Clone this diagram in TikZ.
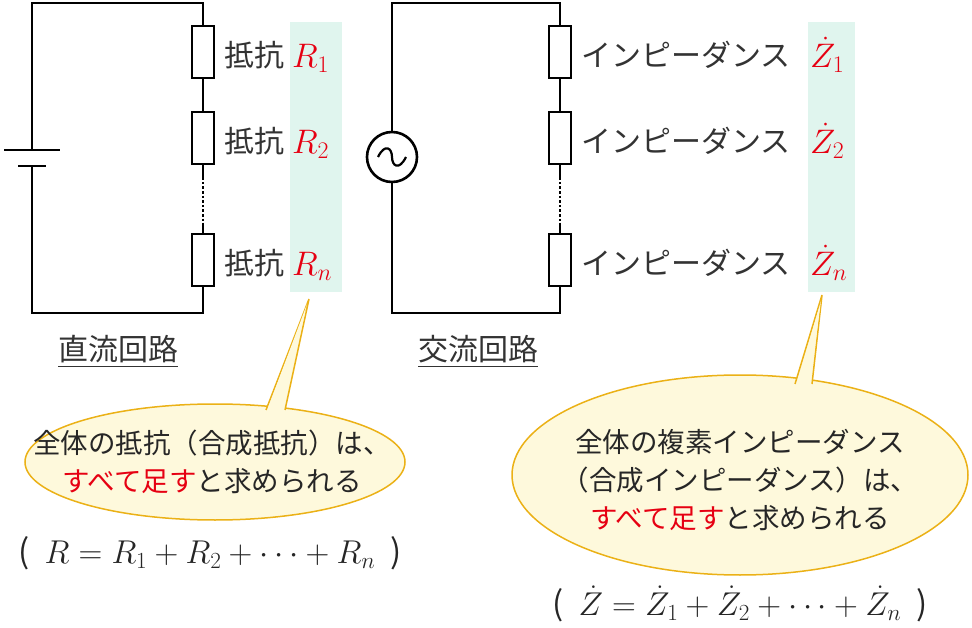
\RequirePackage{fix-cm}
\documentclass[tikz,border=0pt]{standalone}
\usepackage{amsmath}
\usepackage{fontspec}
\setmainfont{Noto Sans CJK JP}
\usetikzlibrary{positioning,calc}
\definecolor{mint}{HTML}{E0F5EE}
\definecolor{cream}{HTML}{FEF9DC}
\definecolor{gold}{HTML}{EBB116}
\definecolor{redtxt}{HTML}{E60012}
\tikzset{wire/.style={line width=2.6pt},
         res/.style={draw,line width=2.6pt,fill=white,minimum width=22pt,minimum height=52pt,inner sep=0pt},
         lbl/.style={anchor=west,font=\fontsize{30}{34}\selectfont,text=black!80,inner sep=0pt},
         sym/.style={anchor=west,font=\fontsize{34}{36}\selectfont,text=redtxt,inner sep=0pt},
         eqn/.style={anchor=center,font=\fontsize{33}{36}\selectfont,text=black!85,inner sep=0pt},
         bubble/.style={draw=gold,line width=1.5pt,fill=cream},
         say/.style={align=center,font=\fontsize{27.5}{38}\selectfont,text=black!85}
}
\begin{document}
\begin{tikzpicture}[x=1pt,y=-1pt]
\useasboundingbox (0,0) rectangle (972,628);
% highlight strips
\fill[mint] (290,22) rectangle (342,292);
\fill[mint] (808,22) rectangle (855,292);

% DC circuit
\coordinate (dctr) at (203,3);
\coordinate (dcbl) at (32,313);
\node[res] (r1) at (203,52) {};
\node[res] (r2) at (203,138) {};
\node[res] (rn) at (203,260) {};
\coordinate (batp) at (32,150);
\coordinate (batn) at (32,166);
\draw[wire] (batp) |- (dctr) -- (r1.north);
\draw[wire] (r1.south) -- (r2.north);
\draw[wire] (r2.south) -- ++(0,12);
\draw[wire,dotted] ($(r2.south)+(0,12)$) -- ($(rn.north)+(0,-10)$);
\draw[wire] ($(rn.north)+(0,-10)$) -- (rn.north);
\draw[wire] (rn.south) |- (dcbl) -- (batn);
\draw[wire] (4,150) -- (60,150);
\draw[wire] (18,166) -- (46,166);
\node[lbl] (t1) at (224,55) {抵抗};
\node[lbl] (t2) at (224,141) {抵抗};
\node[lbl] (tn) at (224,263) {抵抗};
\node[sym] (s1) at (292,58) {$R_1$};
\node[sym] (s2) at (292,144) {$R_2$};
\node[sym] (sn) at (292,266) {$R_n$};

% AC circuit
\coordinate (actr) at (560,3);
\coordinate (acbl) at (392,313);
\node[draw,circle,line width=2.6pt,minimum size=50pt,inner sep=0pt] (src) at (392,157) {};
\draw[line width=2.2pt] (378,157) .. controls (385,143) and (392,148) .. (392,157) .. controls (392,166) and (399,171) .. (406,157);
\node[res] (z1) at (560,52) {};
\node[res] (z2) at (560,138) {};
\node[res] (zn) at (560,260) {};
\draw[wire] (src.north) |- (actr) -- (z1.north);
\draw[wire] (z1.south) -- (z2.north);
\draw[wire] (z2.south) -- ++(0,12);
\draw[wire,dotted] ($(z2.south)+(0,12)$) -- ($(zn.north)+(0,-10)$);
\draw[wire] ($(zn.north)+(0,-10)$) -- (zn.north);
\draw[wire] (zn.south) |- (acbl) -- (src.south);
\node[lbl] (u1) at (581,55) {インピーダンス};
\node[lbl] (u2) at (581,141) {インピーダンス};
\node[lbl] (un) at (581,263) {インピーダンス};
\node[sym] (y1) at (810,55) {$\dot Z_1$};
\node[sym] (y2) at (810,141) {$\dot Z_2$};
\node[sym] (yn) at (810,263) {$\dot Z_n$};

% captions
\node[lbl,anchor=center] (dccap) at (118,352) {\underline{直流回路}};
\node[lbl,anchor=center] (accap) at (478,352) {\underline{交流回路}};

% callouts
\draw[bubble] (215,462) ellipse [x radius=190,y radius=58];
\draw[bubble] (266,410) -- (309,299) -- (285,410);
\fill[cream] (268,408) -- (307,304) -- (283,408) -- cycle;
\node[say] (sayl) at (212,462) {全体の抵抗（合成抵抗）は、\\\textcolor{redtxt}{すべて足す}と求められる};
\draw[bubble] (740,475) ellipse [x radius=228,y radius=100];
\draw[bubble] (795,384) -- (822,295) -- (812,384);
\fill[cream] (797,383) -- (821,301) -- (810,383) -- cycle;
\node[say] (sayr) at (740,480) {全体の複素インピーダンス\\（合成インピーダンス）は、\\\textcolor{redtxt}{すべて足す}と求められる};

% formulas
\node[eqn] (forml) at (210,553) {(\ \ $R=R_1+R_2+\cdots+R_n$\ \ )};
\node[eqn] (formr) at (740,604) {(\ \ $\dot Z=\dot Z_1+\dot Z_2+\cdots+\dot Z_n$\ \ )};
\end{tikzpicture}
\end{document}
